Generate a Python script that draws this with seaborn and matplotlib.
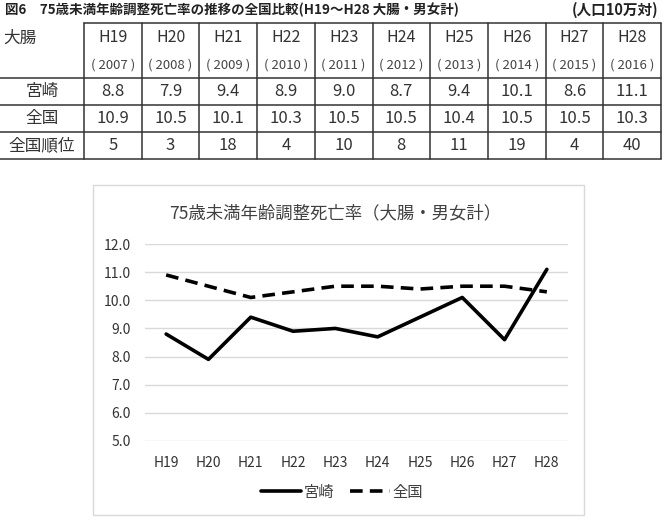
import pandas as pd
import matplotlib
matplotlib.use('Agg')
import matplotlib.pyplot as plt
import seaborn as sns

# data
years = ['H19', 'H20', 'H21', 'H22', 'H23', 'H24', 'H25', 'H26', 'H27', 'H28']
west_years = ['2007', '2008', '2009', '2010', '2011', '2012', '2013', '2014', '2015', '2016']
miyazaki = [8.8, 7.9, 9.4, 8.9, 9.0, 8.7, 9.4, 10.1, 8.6, 11.1]
zenkoku = [10.9, 10.5, 10.1, 10.3, 10.5, 10.5, 10.4, 10.5, 10.5, 10.3]
rank = [5, 3, 18, 4, 10, 8, 11, 19, 4, 40]
series_names = ['宮崎', '全国']
row_labels = ['宮崎', '全国', '全国順位']

fig_title = '図6　75歳未満年齢調整死亡率の推移の全国比較(H19～H28 大腸・男女計)'
unit_text = '(人口10万対)'
chart_title = '75歳未満年齢調整死亡率（大腸・男女計）'

sns.set_theme(style='white')
plt.rcParams['font.family'] = ['Noto Sans CJK JP', 'DejaVu Sans']

fig = plt.figure(figsize=(6.66, 5.26), dpi=100)

# pixel-space layer for the table and the chart frame
bg = fig.add_axes([0, 0, 1, 1])
bg.set_xlim(0, 666)
bg.set_ylim(526, 0)
bg.axis('off')

bg.text(5, 10, fig_title, fontsize=9.7, fontweight='bold', va='center', ha='left', color='#222222')
bg.text(572, 10, unit_text, fontsize=10.5, fontweight='bold', va='center', ha='left', color='#222222')

x0, cw = 84, 57.7
row_y = [23, 78, 105, 132, 159]
line_kw = dict(color='#333333', lw=1.1)
x_end = x0 + cw * len(years)
bg.plot([x0, x_end], [row_y[0], row_y[0]], **line_kw)
for y in row_y[1:]:
    bg.plot([0, x_end], [y, y], **line_kw)
for i in range(len(years) + 1):
    bg.plot([x0 + cw * i, x0 + cw * i], [row_y[0], row_y[-1]], **line_kw)

bg.text(3, 38, '大腸', fontsize=12, ha='left', va='center', color='#333333')
for i, (h, w) in enumerate(zip(years, west_years)):
    cx = x0 + cw * (i + 0.5)
    bg.text(cx, 38, h, fontsize=11.5, ha='center', va='center', color='#333333')
    bg.text(cx, 65, '( ' + w + ' )', fontsize=9.5, ha='center', va='center', color='#444444')

rows = [miyazaki, zenkoku, rank]
for r, (lab, vals) in enumerate(zip(row_labels, rows)):
    cy = (row_y[r + 1] + row_y[r + 2]) / 2
    bg.text(x0 / 2, cy, lab, fontsize=12, ha='center', va='center', color='#333333')
    for i, v in enumerate(vals):
        txt = f'{v:.1f}' if r < 2 else str(v)
        bg.text(x0 + cw * (i + 0.5), cy, txt, fontsize=12, ha='center', va='center', color='#333333')

bg.add_patch(plt.Rectangle((93, 185), 491, 330, fill=False, edgecolor='#d9d9d9', lw=1))

# line chart
df = pd.DataFrame({
    '年度': years * 2,
    '値': miyazaki + zenkoku,
    '地域': [series_names[0]] * len(years) + [series_names[1]] * len(years),
})

ax = fig.add_axes([145 / 666, (526 - 441) / 526, 423 / 666, 197 / 526])
sns.lineplot(data=df, x='年度', y='値', hue='地域', style='地域',
             palette={'宮崎': 'black', '全国': 'black'},
             dashes={'宮崎': '', '全国': (3.5, 2)},
             linewidth=2.6, sort=False, ax=ax, legend=True)

ax.set_xlim(-0.5, len(years) - 0.5)
ax.set_ylim(5, 12)
ax.set_yticks([5, 6, 7, 8, 9, 10, 11, 12])
ax.set_yticklabels([f'{v:.1f}' for v in ax.get_yticks()])
ax.yaxis.grid(True, color='#d9d9d9', lw=1)
ax.set_axisbelow(True)
for s in ax.spines.values():
    s.set_visible(False)
ax.tick_params(axis='x', length=0, pad=11, labelsize=10, labelcolor='#333333')
ax.tick_params(axis='y', length=0, pad=10, labelsize=10, labelcolor='#333333')
ax.set_xlabel('')
ax.set_ylabel('')

fig.text(335 / 666, (526 - 213) / 526, chart_title, fontsize=12.5, ha='center', va='center', color='#404040')

handles, labels = ax.get_legend_handles_labels()
ax.legend(handles, labels, loc='center', bbox_to_anchor=(0.514, (526 - 492) / 526),
          bbox_transform=fig.transFigure, ncol=2, frameon=False, handlelength=2.6,
          columnspacing=1.0, handletextpad=0.2, fontsize=11, labelcolor='#404040')

fig.savefig('out.png', dpi=100)
